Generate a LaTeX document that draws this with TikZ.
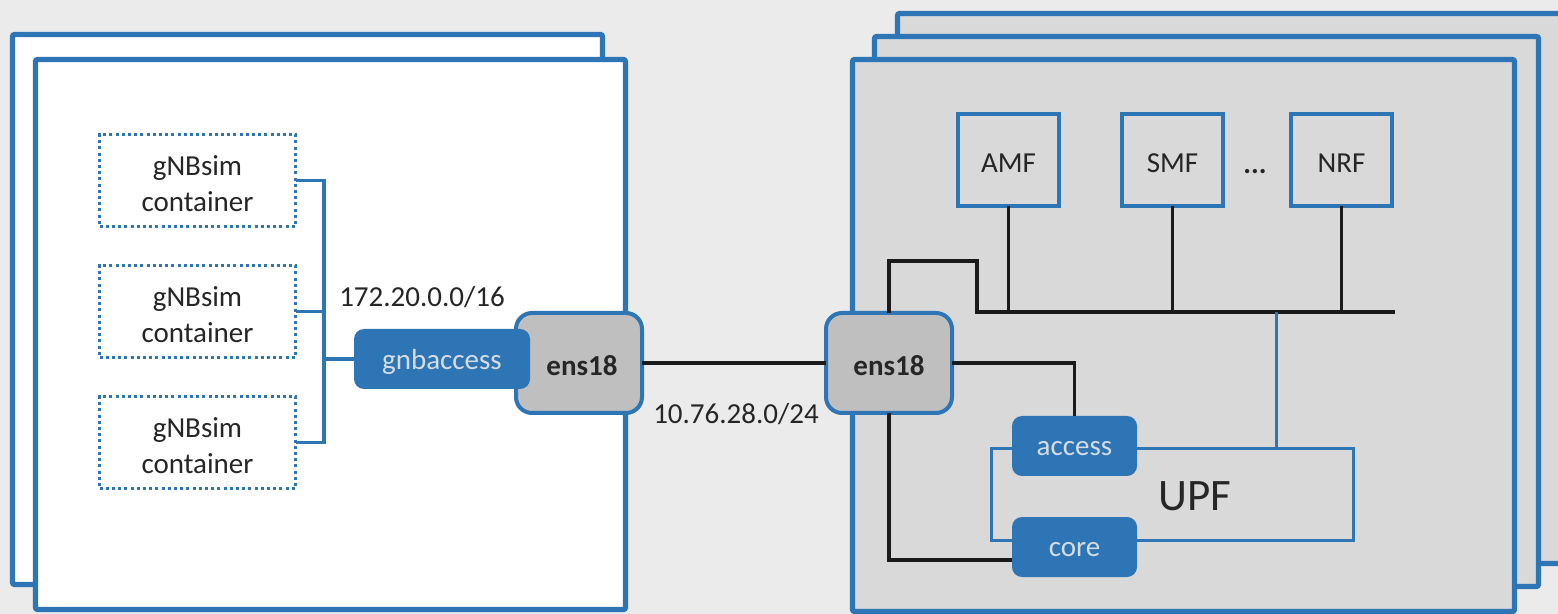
\documentclass[tikz,border=0pt]{standalone}
\usepackage{fontspec}
\setmainfont{Carlito}
\definecolor{netblue}{HTML}{2E75B6}
\definecolor{canvas}{HTML}{EBEBEB}
\definecolor{hostgray}{HTML}{D9D9D9}
\definecolor{ifgray}{HTML}{BFBFBF}
\definecolor{ink}{HTML}{262626}
\definecolor{porttext}{HTML}{D6DCE5}
\definecolor{wire}{HTML}{1A1A1A}
% lower the ink of a label a little without changing its box
\newcommand\dropped[1]{\raisebox{-1.5pt}[\height][\depth]{#1}}
\newcommand\twolines[2]{\raisebox{-3pt}[\height][\depth]{\begin{tabular}{@{}c@{}}#1\\#2\end{tabular}}}
\tikzset{
  txt/.style={font=\fontsize{14.5pt}{18pt}\selectfont, text=ink},
  hostbox/.style={draw=netblue, line width=2.6pt, rounded corners=1pt,
    inner sep=0pt, outer sep=0pt},
  ctrbox/.style={txt, draw=netblue, line width=1.5pt,
    dash pattern=on 1.5pt off 1.6pt, inner sep=0pt, outer sep=0pt,
    minimum width=98pt, minimum height=46pt, align=center},
  nfbox/.style={txt, draw=netblue, line width=2pt, inner sep=0pt, outer sep=0pt,
    minimum width=50.5pt, minimum height=46pt},
  ifbox/.style={txt, font=\fontsize{14.5pt}{18pt}\selectfont\bfseries,
    fill=ifgray, draw=netblue, line width=2pt, rounded corners=8pt,
    inner sep=0pt, outer sep=0pt, minimum width=63pt, minimum height=50pt},
  portbox/.style={font=\fontsize{14.5pt}{18pt}\selectfont, text=porttext,
    fill=netblue, rounded corners=5pt, inner sep=0pt, outer sep=0pt,
    minimum height=30pt},
  bluelink/.style={draw=netblue, line width=1.8pt},
  blacklink/.style={draw=wire, line width=1.6pt},
  upfbox/.style={draw=netblue, line width=1.5pt, inner sep=0pt, outer sep=0pt,
    minimum width=181pt, minimum height=46pt}
}
\begin{document}
\begin{tikzpicture}[x=0.5pt, y=-0.5pt]
\useasboundingbox (0,0) rectangle (1558,614);
\clip (0,0) rectangle (1558,614);
\fill[canvas] (0,0) rectangle (1558,614);

% ---- gNBsim host (stacked) ----
\node[hostbox, fill=white, minimum width=295pt, minimum height=275pt] (hostLb) at (307.5,309.5) {};
\node[hostbox, fill=white, minimum width=295pt, minimum height=275pt] (hostLf) at (330.5,334.5) {};

% containers
\node[ctrbox] (c1) at (197.5,180.5) {\twolines{gNBsim}{container}};
\node[ctrbox] (c2) at (197.5,311.5) {\twolines{gNBsim}{container}};
\node[ctrbox] (c3) at (197.5,442.5) {\twolines{gNBsim}{container}};

% ---- Aether host (stacked) ----
\node[hostbox, fill=hostgray, minimum width=345pt, minimum height=275pt] (hostR3) at (1242.5,288.5) {};
\node[hostbox, fill=hostgray, minimum width=332pt, minimum height=275pt] (hostR2) at (1206.5,311.5) {};
\node[hostbox, fill=hostgray, minimum width=331pt, minimum height=276pt] (hostR1) at (1183.5,335.5) {};

% interfaces of the gNBsim host
\node[ifbox] (ensL) at (579,363) {\hspace*{3pt}\dropped{ens18}};
\node[portbox, minimum width=88pt] (gnb) at (442,359) {\dropped{gnbaccess}};

% container bridge
\coordinate (br) at (324,181);
\draw[bluelink] (c1.east) -- (c1.east -| br) -- (c3.east -| br) -- (c3.east);
\draw[bluelink] (c2.east) -- (c2.east -| br);
\draw[bluelink] (gnb.west -| br) -- (gnb.west);

% network functions
\node[nfbox] (amf) at (1008.5,160) {\dropped{AMF}};
\node[nfbox] (smf) at (1172.5,160) {\dropped{SMF}};
\node[nfbox] (nrf) at (1341.5,160) {\dropped{NRF}};
\node[txt, anchor=base] (dots) at (1255,174) {\textbf{...}};

% UPF
\node[upfbox] (upf) at (1172.5,494.5) {};
\node[font=\fontsize{22.5pt}{26pt}\selectfont, text=ink] (upflbl) at (1195,496) {UPF};
\node[portbox, minimum width=62.5pt] (acc) at (1074.5,446) {\dropped{access}};
\node[portbox, minimum width=62.5pt] (core) at (1074.5,547) {\dropped{core}};

% interface of the Aether host
\node[ifbox] (ensR) at (889,363) {\dropped{ens18}};

% control-plane bus
\coordinate (busL) at (977,312);
\coordinate (busR) at (1395,312);
\coordinate (tap) at (1276,312);
\draw[blacklink] (ensR.north) -- ++(0,-52) -| (busL) -- (busR);
\draw[blacklink] (amf.south) -- (amf.south |- busL);
\draw[blacklink] (smf.south) -- (smf.south |- busL);
\draw[blacklink] (nrf.south) -- (nrf.south |- busL);
\draw[bluelink, line width=1.5pt] (tap) -- (tap |- upf.north);

% data-plane wiring
\draw[blacklink] (ensR.east) -| (acc.north);
\draw[blacklink] (ensR.south) |- ([yshift=-6.5pt]core.west);

% link between the hosts
\draw[blacklink] (ensL.east) -- (ensR.west);

% subnet labels
\node[txt] (subL) at (422,297) {172.20.0.0/16};
\node[txt] (subR) at (736,414) {10.76.28.0/24};
\end{tikzpicture}
\end{document}
